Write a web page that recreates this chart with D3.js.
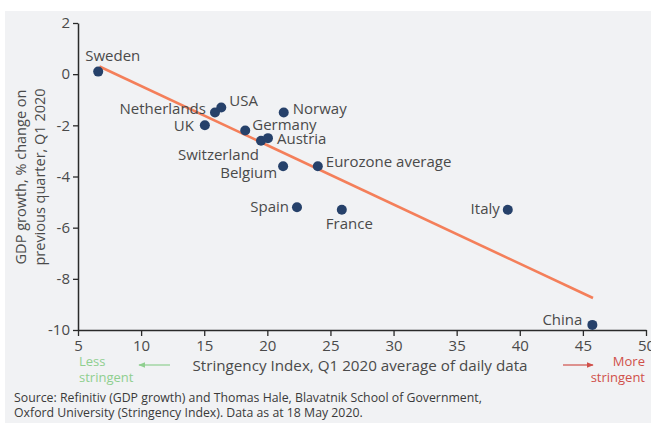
<!DOCTYPE html>
<html><head><meta charset="utf-8">
<script src="https://cdn.jsdelivr.net/npm/d3@7"></script>
<style>
body{margin:0;background:#fff;}
text{font-family:"Open Sans",sans-serif;}
</style></head><body>
<svg id="c" width="651" height="423"></svg>
<script>
const countries = ["Sweden","Netherlands","USA","UK","Germany","Switzerland","Austria","Norway","Belgium","Eurozone average","Spain","France","Italy","China"];
const stringency = [6.6,15.85,16.35,15.05,18.25,19.5,20.05,21.3,21.25,24.0,22.35,25.9,39.05,45.75];
const gdpGrowth = [0.1,-1.5,-1.3,-2.0,-2.2,-2.6,-2.5,-1.5,-3.6,-3.6,-5.2,-5.3,-5.3,-9.8];
const trendX = [6.7,45.8];
const trendY = [0.3,-8.75];
const xTicks = [5,10,15,20,25,30,35,40,45,50];
const yTicks = [2,0,-2,-4,-6,-8,-10];

// label layout (anchor, dx, dy in px from the point)
const labelAnchor = ["start","end","start","end","start","end","start","start","end","start","end","start","end","end"];
const labelDx = [-13,-9,8,-11,7,-2,9,9,-6,8,-8,-16,-8,-10];
const labelDy = [-11,1,-1,6,0,19,6,1,12,1,5,19,4,0];

const svg = d3.select("#c");
svg.append("rect").attr("x",5).attr("y",11).attr("width",646).attr("height",412).attr("fill","#f1f2f4");

const x = d3.scaleLinear().domain([5,50]).range([78,646]);
const y = d3.scaleLinear().domain([-10,2]).range([330,23]);

const axisColor="#2a2a2a", textColor="#4a4a4a";

const gx = svg.append("g").attr("transform","translate(0,330)")
  .call(d3.axisBottom(x).tickValues(xTicks).tickSize(6).tickSizeOuter(0).tickPadding(4));
const gy = svg.append("g").attr("transform","translate(78,0)")
  .call(d3.axisLeft(y).tickValues(yTicks).tickSize(5).tickSizeOuter(0).tickPadding(3).tickFormat(d=>d));
[gx,gy].forEach(g=>{
  g.select(".domain").attr("stroke",axisColor).attr("stroke-width",1.5);
  g.selectAll(".tick line").attr("stroke",axisColor).attr("stroke-width",1.3);
  g.selectAll(".tick text").attr("fill",textColor).style("font-size","15px").style("font-family","'Open Sans',sans-serif");
});

// trend line
svg.append("line")
  .attr("x1",x(trendX[0])).attr("y1",y(trendY[0]))
  .attr("x2",x(trendX[1])).attr("y2",y(trendY[1]))
  .attr("stroke","#f47f5a").attr("stroke-width",2.6);

const data = countries.map((c,i)=>({c,x:stringency[i],y:gdpGrowth[i],a:labelAnchor[i],dx:labelDx[i],dy:labelDy[i]}));
svg.selectAll("circle.pt").data(data).enter().append("circle")
  .attr("cx",d=>x(d.x)).attr("cy",d=>y(d.y)).attr("r",5).attr("fill","#26416a");

svg.selectAll("text.lbl").data(data).enter().append("text")
  .attr("class","lbl")
  .attr("x",d=>x(d.x)+d.dx)
  .attr("y",d=>y(d.y)+d.dy)
  .attr("text-anchor",d=>d.a)
  .attr("fill",textColor).style("font-size","15px")
  .text(d=>d.c);

// axis titles
svg.append("text").attr("x",360).attr("y",371).attr("text-anchor","middle")
  .attr("fill",textColor).style("font-size","15.2px")
  .text("Stringency Index, Q1 2020 average of daily data");
const yt = svg.append("text").attr("transform","translate(26,177) rotate(-90)")
  .attr("text-anchor","middle").attr("fill",textColor).style("font-size","14.5px");
yt.append("tspan").attr("x",0).attr("dy",0).text("GDP growth, % change on");
yt.append("tspan").attr("x",0).attr("dy",18.5).text("previous quarter, Q1 2020");

// direction hints
const defs = svg.append("defs");
[["gArr","#8fcf8f"],["rArr","#d0504a"]].forEach(([id,col])=>{
  defs.append("marker").attr("id",id).attr("viewBox","0 0 10 10").attr("refX",9).attr("refY",5)
    .attr("markerWidth",6).attr("markerHeight",6).attr("orient","auto-start-reverse")
    .append("path").attr("d","M0,1 L10,5 L0,9 Z").attr("fill",col);
});
svg.append("line").attr("x1",170).attr("y1",365).attr("x2",139).attr("y2",365)
  .attr("stroke","#8fcf8f").attr("stroke-width",1.2).attr("marker-end","url(#gArr)");
svg.append("line").attr("x1",563).attr("y1",365).attr("x2",593).attr("y2",365)
  .attr("stroke","#d0504a").attr("stroke-width",1.2).attr("marker-end","url(#rArr)");
const lt = svg.append("text").attr("x",79).attr("y",366).attr("fill","#8fcf8f").style("font-size","13px");
lt.append("tspan").attr("x",79).text("Less");
lt.append("tspan").attr("x",79).attr("dy",15.5).text("stringent");
const mt = svg.append("text").attr("x",645).attr("y",366).attr("fill","#d0504a").attr("text-anchor","end").style("font-size","13px");
mt.append("tspan").attr("x",645).text("More");
mt.append("tspan").attr("x",645).attr("dy",15.5).text("stringent");

// source
const st = svg.append("text").attr("x",14).attr("y",402).attr("fill","#3a3a3a").style("font-size","12.3px");
st.append("tspan").attr("x",14).text("Source: Refinitiv (GDP growth) and Thomas Hale, Blavatnik School of Government,");
st.append("tspan").attr("x",14).attr("dy",15).text("Oxford University (Stringency Index). Data as at 18 May 2020.");
</script></body></html>
